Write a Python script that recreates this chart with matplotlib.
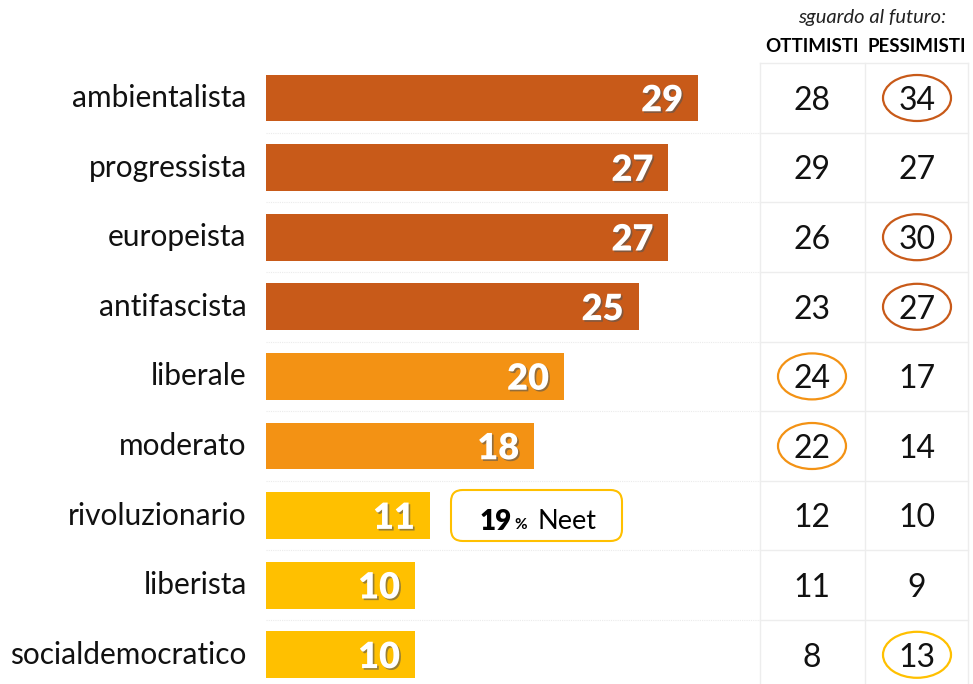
import matplotlib
matplotlib.use("Agg")
import matplotlib.pyplot as plt
import matplotlib.patheffects as pe
from matplotlib.patches import Ellipse, FancyBboxPatch

plt.rcParams['font.family'] = ['Lato', 'DejaVu Sans']

# data
categories = ["ambientalista", "progressista", "europeista", "antifascista",
              "liberale", "moderato", "rivoluzionario", "liberista", "socialdemocratico"]
values = [29, 27, 27, 25, 20, 18, 11, 10, 10]
ottimisti = [28, 29, 26, 23, 24, 22, 12, 11, 8]
pessimisti = [34, 27, 30, 27, 17, 14, 10, 9, 13]
circled_ott = [4, 5]
circled_pess = [0, 2, 3, 8]

DARK = "#C85A19"
MID = "#F39214"
YEL = "#FFC000"
bar_colors = [DARK] * 4 + [MID] * 2 + [YEL] * 3
circ_pess_colors = {0: DARK, 2: DARK, 3: DARK, 8: YEL}

W, H = 973, 684
fig = plt.figure(figsize=(W / 100, H / 100), dpi=100)
ax = fig.add_axes([0, 0, 1, 1])
px = 14.9   # pixels per unit on x
row = 69.6  # pixels per row
ax.set_xlim(-266 / px, (W - 266) / px)
ax.set_ylim((H - 98) / row, -98 / row)
ax.axis('off')

n = len(categories)
ys = list(range(n))

# faint dotted separators and table grid
x_tab_l, x_tab_m, x_tab_r = (760 - 266) / px, (865 - 266) / px, (968 - 266) / px
for i in range(n + 1):
    yb = i - 0.5
    if i > 0:
        ax.plot([0, x_tab_l], [yb, yb], color="#EBEBEB", lw=0.8, ls=(0, (1, 1)))
    ax.plot([x_tab_l, x_tab_r], [yb, yb], color="#EDEDED", lw=1)
for xv in (x_tab_l, x_tab_m, x_tab_r):
    ax.plot([xv, xv], [-0.5, n], color="#EDEDED", lw=1)

# bars
ax.barh(ys, values, height=0.67, color=bar_colors, zorder=2)
shadow = [pe.withSimplePatchShadow(offset=(1.2, -1.2), shadow_rgbFace="#555555", alpha=0.6)]
for y, v in zip(ys, values):
    ax.text(v - 1.0, y + 0.04, str(v), ha='right', va='center', color='white',
            fontsize=26, fontweight='heavy', zorder=3, path_effects=shadow)
    ax.text(-1.3, y, categories[y], ha='right', va='center', fontsize=21.5, color='#111111')

# table values
cx_o = (812 - 266) / px
cx_p = (917 - 266) / px
for y in ys:
    ax.text(cx_o, y + 0.04, str(ottimisti[y]), ha='center', va='center', fontsize=23, color='#111111')
    ax.text(cx_p, y + 0.04, str(pessimisti[y]), ha='center', va='center', fontsize=23, color='#111111')
for y in circled_ott:
    ax.add_patch(Ellipse((cx_o, y), 68 / px, 46 / row, fill=False, edgecolor=MID, lw=1.6))
for y in circled_pess:
    ax.add_patch(Ellipse((cx_p, y), 68 / px, 46 / row, fill=False, edgecolor=circ_pess_colors[y], lw=1.6))

# headers
ax.text((872 - 266) / px, (18 - 98) / row, "sguardo al futuro:", ha='center', va='center',
        fontsize=14.5, style='italic', color='#222222')
ax.text(cx_o, (46 - 98) / row, "OTTIMISTI", ha='center', va='center', fontsize=13.5, fontweight='bold')
ax.text(cx_p, (46 - 98) / row, "PESSIMISTI", ha='center', va='center', fontsize=13.5, fontweight='bold')

# Neet box (drawn in figure coords so the rounding stays round)
bx0, bx1 = 451 / W, 622 / W
by0, by1 = 1 - 541 / H, 1 - 490 / H
ax.add_patch(FancyBboxPatch((bx0, by0), bx1 - bx0, by1 - by0, transform=fig.transFigure,
                            boxstyle="round,pad=0,rounding_size=0.012", mutation_aspect=W / H,
                            facecolor='white', edgecolor=YEL, lw=1.5, zorder=3))
ax.text((512 - 266) / px, 6.09, "19", ha='right', va='center', fontsize=20, fontweight='heavy', zorder=4)
ax.text((514 - 266) / px, 6.13, "%", ha='left', va='center', fontsize=11, fontweight='bold', zorder=4)
ax.text((538 - 266) / px, 6.09, "Neet", ha='left', va='center', fontsize=19.5, zorder=4)

fig.savefig("out.png", dpi=100)
